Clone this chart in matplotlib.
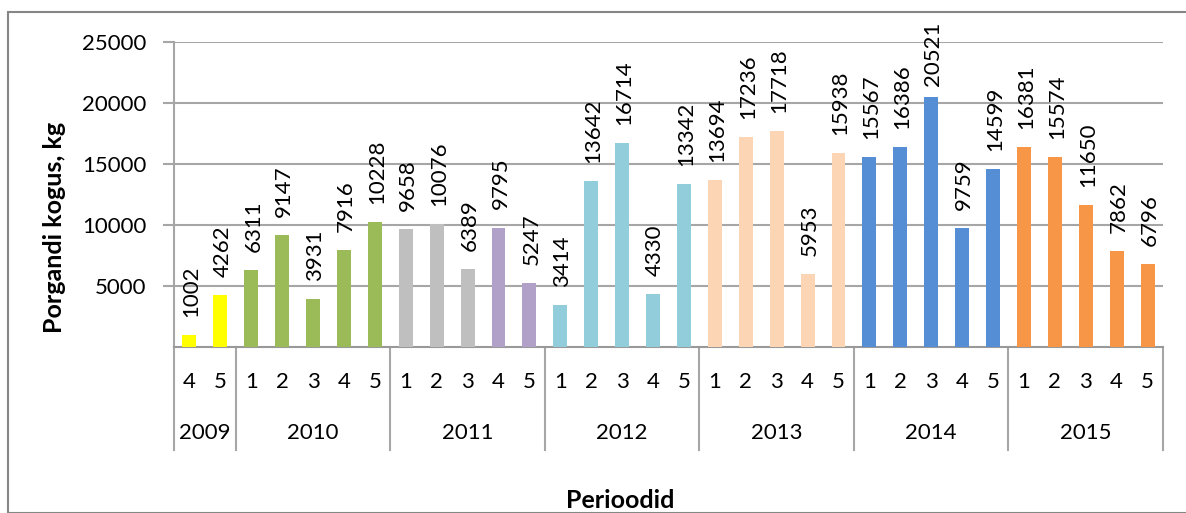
import matplotlib
matplotlib.use("Agg")
import matplotlib.pyplot as plt
from matplotlib.patches import Rectangle
import matplotlib.transforms as mtrans

plt.rcParams['font.family'] = ['Lato', 'DejaVu Sans']

years = ["2009", "2010", "2011", "2012", "2013", "2014", "2015"]
periods = [
    ["4", "5"],
    ["1", "2", "3", "4", "5"],
    ["1", "2", "3", "4", "5"],
    ["1", "2", "3", "4", "5"],
    ["1", "2", "3", "4", "5"],
    ["1", "2", "3", "4", "5"],
    ["1", "2", "3", "4", "5"],
]
values = [
    1002, 4262,
    6311, 9147, 3931, 7916, 10228,
    9658, 10076, 6389, 9795, 5247,
    3414, 13642, 16714, 4330, 13342,
    13694, 17236, 17718, 5953, 15938,
    15567, 16386, 20521, 9759, 14599,
    16381, 15574, 11650, 7862, 6796,
]
colors = (
    ["#FFFF00"] * 2
    + ["#9BBB59"] * 5
    + ["#BFBFBF"] * 3 + ["#B1A0C7"] * 2
    + ["#92CDDC"] * 5
    + ["#FCD5B5"] * 5
    + ["#558ED5"] * 5
    + ["#F79646"] * 5
)
y_ticks = [5000, 10000, 15000, 20000, 25000]

W, H = 1186, 513
fig = plt.figure(figsize=(W / 100, H / 100), dpi=100)
fig.patch.set_facecolor("white")

FS = 16

# outer chart border
fig.patches.append(Rectangle((8 / W, 0), (W - 8) / W + 0.01, (H - 12) / H,
                             transform=fig.transFigure, fill=False,
                             edgecolor="#868686", linewidth=1.5))

left, right, top, bottom = 174, 1163, 42, 347
ax = fig.add_axes([left / W, (H - bottom) / H, (right - left) / W, (bottom - top) / H])

grid_c = "#A6A6A6"
x = list(range(len(values)))
ax.bar(x, values, width=0.45, color=colors, zorder=3)
ax.set_xlim(-0.5, len(values) - 0.5)
ax.set_ylim(0, 25000)
ax.set_yticks(y_ticks)
ax.set_yticklabels([str(v) for v in y_ticks], fontsize=FS)
ax.yaxis.grid(True, color=grid_c, linewidth=1.5, zorder=0)
ax.tick_params(axis='y', length=8, width=1.5, color=grid_c, pad=12)
ax.set_xticks([])
for s in ["top", "right"]:
    ax.spines[s].set_visible(False)
ax.spines["left"].set_color(grid_c)
ax.spines["left"].set_linewidth(1.5)
ax.spines["bottom"].set_color("#999999")
ax.spines["bottom"].set_linewidth(1.5)

labels = []
for xi, v in zip(x, values):
    t = ax.annotate(str(v), (xi, v), xytext=(1.5, 13), textcoords="offset points",
                    rotation=90, ha="center", va="bottom", fontsize=FS, zorder=4,
                    annotation_clip=False)
    labels.append(t)

# keep labels inside the chart (as the spreadsheet does)
fig.canvas.draw()
renderer = fig.canvas.get_renderer()
max_top = H - 22
for t in labels:
    bb = t.get_window_extent(renderer)
    if bb.y1 > max_top:
        shift_px = bb.y1 - max_top
        ox, oy = t.xyann
        t.xyann = (ox, oy - shift_px * 72 / 100)

# multi-level category labels
trans = mtrans.blended_transform_factory(ax.transData, ax.transAxes)
ax_h = bottom - top
def ay(py):
    return (bottom - py) / ax_h

idx = 0
bounds = [-0.5]
for yr, plist in zip(years, periods):
    start = idx
    for p in plist:
        ax.text(idx, ay(382), p, transform=trans, ha="center", va="center",
                fontsize=FS, clip_on=False)
        idx += 1
    mid = (start + idx - 1) / 2
    ax.text(mid, ay(433), yr, transform=trans, ha="center", va="center",
            fontsize=FS, clip_on=False)
    bounds.append(idx - 0.5)

for b in bounds:
    ax.plot([b, b], [0, ay(450)], transform=trans, color=grid_c,
            linewidth=1.5, clip_on=False, zorder=2)

fig.text(55 / W, 1 - 227 / H, "Porgandi kogus, kg", rotation=90, ha="center",
         va="center", fontsize=18, fontweight="bold")
fig.text(620 / W, 1 - 500 / H, "Perioodid", ha="center", va="center",
         fontsize=18, fontweight="bold")

fig.savefig("out.png", dpi=100)
